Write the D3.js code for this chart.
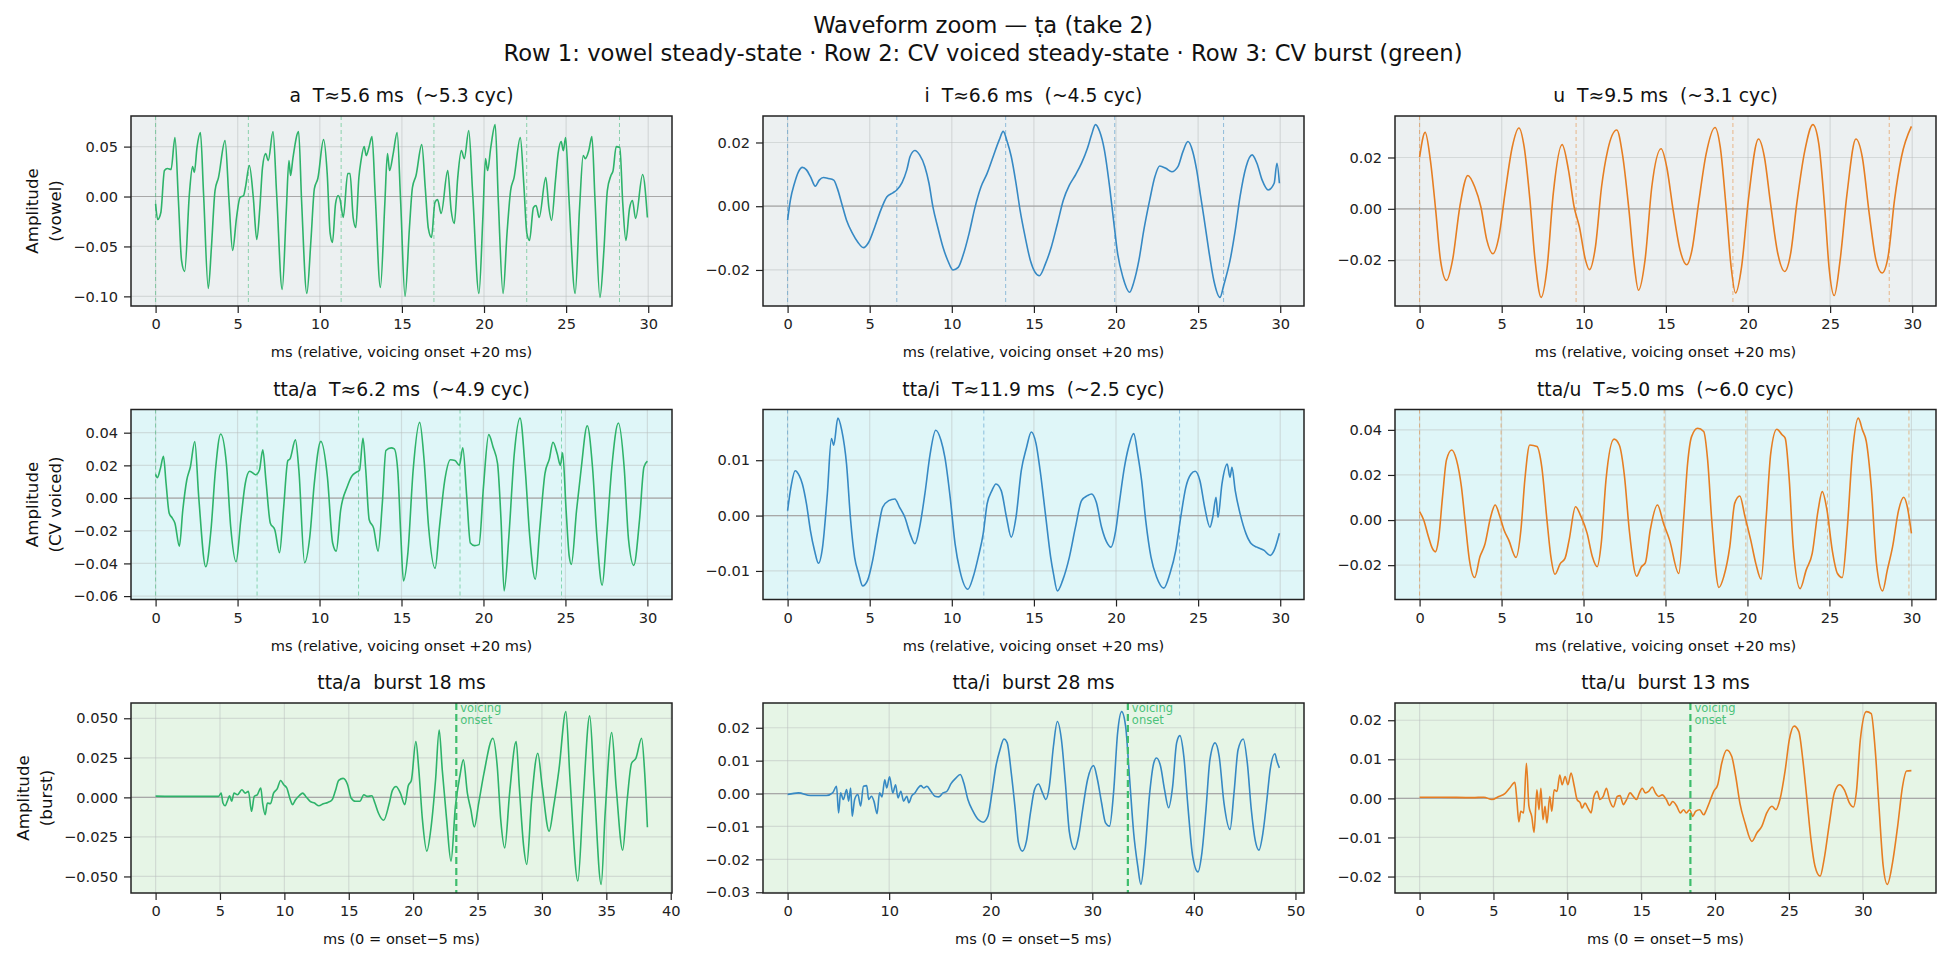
<!DOCTYPE html>
<html>
<head>
<meta charset="utf-8"/>
<script src="https://cdn.jsdelivr.net/npm/d3@7"></script>
<style>
  body { margin: 0; background: #fff; }
  svg text { font-family: "DejaVu Sans", sans-serif; }
</style>
</head>
<body>
<svg id="fig" width="1951" height="962"></svg>
<script>
// ---- data: [ms, amplitude] ----
var vowelA = [[0,-0.0073],[0.13,-0.023],[0.32,-0.016],[0.54,0.026],[0.72,0.028],[0.94,0.027],[1.18,0.059],[1.39,-0.004],[1.58,-0.064],[1.77,-0.075],[2.06,0.003],[2.25,0.03],[2.36,0.024],[2.52,0.049],[2.73,0.064],[2.92,0.003],[3.21,-0.092],[3.4,-0.051],[3.62,0.006],[3.83,0.019],[4.23,0.056],[4.47,-0.004],[4.69,-0.054],[4.93,-0.021],[5.14,-0.001],[5.36,0.001],[5.47,0.009],[5.71,0.031],[5.95,-0.001],[6.16,-0.043],[6.35,-0.011],[6.51,0.029],[6.7,0.043],[6.86,0.036],[7.15,0.065],[7.37,0.003],[7.71,-0.093],[7.96,-0.014],[8.12,0.036],[8.22,0.021],[8.36,0.038],[8.71,0.065],[8.89,-0.004],[9.21,-0.097],[9.46,-0.044],[9.67,0.008],[9.88,0.018],[10.23,0.057],[10.45,0.023],[10.63,-0.037],[10.77,-0.046],[10.96,-0.007],[11.12,0.001],[11.22,-0.002],[11.43,-0.021],[11.7,0.023],[11.84,0.023],[12.03,-0.021],[12.19,-0.031],[12.38,0.019],[12.51,0.036],[12.7,0.05],[12.83,0.041],[12.99,0.049],[13.18,0.06],[13.37,0.003],[13.69,-0.091],[13.96,-0.007],[14.12,0.043],[14.25,0.026],[14.47,0.043],[14.71,0.064],[14.92,-0.004],[15.19,-0.1],[15.46,-0.031],[15.64,0.009],[15.86,0.021],[16.21,0.052],[16.42,0.009],[16.61,-0.032],[16.8,-0.041],[17.01,-0.006],[17.17,-0.003],[17.39,-0.017],[17.79,0.026],[18.0,-0.014],[18.19,-0.027],[18.4,0.019],[18.62,0.046],[18.8,0.038],[19.07,0.066],[19.31,0.003],[19.69,-0.097],[19.93,-0.021],[20.09,0.038],[20.22,0.026],[20.41,0.049],[20.68,0.072],[20.87,-0.004],[21.16,-0.097],[21.4,-0.037],[21.62,0.006],[21.83,0.019],[22.21,0.059],[22.42,0.013],[22.61,-0.037],[22.77,-0.044],[23.01,-0.011],[23.17,-0.009],[23.36,-0.021],[23.76,0.019],[23.95,-0.011],[24.11,-0.024],[24.35,0.016],[24.51,0.043],[24.7,0.055],[24.83,0.046],[24.97,0.059],[25.18,-0.004],[25.55,-0.097],[25.82,-0.011],[26.04,0.041],[26.17,0.038],[26.38,0.046],[26.57,0.06],[26.76,-0.004],[27.06,-0.101],[27.3,-0.054],[27.51,0.006],[27.73,0.021],[27.86,0.026],[28.05,0.05],[28.27,0.049],[28.45,-0.007],[28.64,-0.044],[28.86,-0.012],[29.04,-0.004],[29.23,-0.022],[29.66,0.022],[29.95,-0.021]];

var vowelI = [[0,-0.0044],[0.17,0.0019],[0.42,0.0072],[0.66,0.0108],[0.9,0.0122],[1.15,0.0114],[1.39,0.0093],[1.69,0.0063],[1.93,0.0082],[2.18,0.009],[2.49,0.0087],[2.81,0.0082],[3.03,0.0056],[3.3,0.0008],[3.59,-0.0044],[3.96,-0.0086],[4.28,-0.0113],[4.62,-0.013],[4.94,-0.0113],[5.31,-0.0065],[5.67,-0.0013],[6.04,0.0029],[6.41,0.0042],[6.65,0.0051],[6.97,0.0074],[7.26,0.0114],[7.46,0.0156],[7.75,0.0175],[8.04,0.0161],[8.36,0.0124],[8.61,0.0072],[8.85,-0.0002],[9.14,-0.0065],[9.46,-0.0128],[9.76,-0.0171],[10.07,-0.02],[10.39,-0.0192],[10.68,-0.0155],[11.05,-0.0086],[11.42,-0.0002],[11.78,0.0061],[12.15,0.0103],[12.52,0.0156],[12.89,0.0208],[13.13,0.0235],[13.37,0.0203],[13.62,0.0156],[13.91,0.0072],[14.16,-0.0013],[14.47,-0.0097],[14.79,-0.0171],[15.33,-0.0218],[15.7,-0.0181],[16.06,-0.0128],[16.43,-0.0055],[16.79,0.0019],[17.16,0.0066],[17.53,0.0098],[17.9,0.0135],[18.26,0.0182],[18.51,0.0224],[18.75,0.0256],[19.0,0.0235],[19.29,0.0177],[19.61,0.0061],[19.85,-0.0044],[20.1,-0.0149],[20.42,-0.0223],[20.83,-0.027],[21.08,-0.0239],[21.39,-0.0171],[21.69,-0.0076],[22.05,0.0019],[22.37,0.0093],[22.66,0.0126],[23.03,0.0119],[23.4,0.0108],[23.77,0.0124],[24.08,0.0172],[24.38,0.0203],[24.67,0.0172],[24.91,0.0114],[25.16,0.0029],[25.35,-0.0034],[25.65,-0.0139],[25.96,-0.0234],[26.33,-0.0286],[26.58,-0.0244],[26.94,-0.0171],[27.26,-0.0076],[27.55,0.0029],[27.92,0.0124],[28.29,0.0161],[28.58,0.0135],[28.9,0.0082],[29.27,0.0051],[29.63,0.0072],[29.8,0.0135],[29.95,0.0072]];

var vowelU = [[0,0.0201],[0.34,0.0298],[0.66,0.0188],[0.98,-0.0005],[1.27,-0.0199],[1.64,-0.0279],[2.01,-0.0199],[2.45,0.0008],[2.94,0.013],[3.36,0.0085],[3.73,0.0008],[4.09,-0.0121],[4.46,-0.0175],[4.83,-0.0108],[5.2,0.0059],[5.64,0.024],[6.05,0.0315],[6.37,0.024],[6.72,0.0034],[7.03,-0.0199],[7.4,-0.0345],[7.77,-0.0225],[8.14,0.0059],[8.68,0.025],[9.07,0.015],[9.41,0.0008],[9.73,-0.007],[10.1,-0.0199],[10.34,-0.0237],[10.71,-0.0147],[11.08,0.0085],[11.45,0.0227],[12.01,0.0307],[12.35,0.0214],[12.75,-0.0005],[13.04,-0.0199],[13.33,-0.0317],[13.73,-0.0199],[14.14,0.0085],[14.71,0.0234],[15.05,0.0163],[15.44,-0.0005],[15.86,-0.016],[16.27,-0.0218],[16.59,-0.016],[16.96,0.0008],[17.45,0.0214],[17.99,0.0317],[18.31,0.024],[18.68,-0.0005],[18.97,-0.0225],[19.24,-0.0328],[19.61,-0.0225],[20.02,0.0034],[20.64,0.0272],[21.0,0.0201],[21.37,0.0021],[21.81,-0.0173],[22.23,-0.0244],[22.6,-0.0173],[22.97,0.0021],[23.46,0.0227],[23.95,0.0328],[24.31,0.0253],[24.68,-0.0005],[24.93,-0.0225],[25.25,-0.0338],[25.61,-0.0199],[26.03,0.0059],[26.57,0.0272],[26.96,0.0201],[27.38,-0.0018],[27.79,-0.0199],[28.16,-0.025],[28.53,-0.0186],[28.92,0.0034],[29.34,0.0201],[29.95,0.0321]];

var cvA = [[0,0.0145],[0.11,0.0125],[0.29,0.018],[0.48,0.0255],[0.64,0.0089],[0.83,-0.0093],[1.02,-0.0123],[1.18,-0.0154],[1.45,-0.0295],[1.66,-0.0073],[1.9,0.0109],[2.12,0.019],[2.39,0.0345],[2.63,0.0008],[3.06,-0.042],[3.38,-0.0194],[3.65,0.017],[3.97,0.0392],[4.32,0.021],[4.58,-0.0174],[4.91,-0.039],[5.2,-0.0133],[5.47,0.0089],[5.74,0.0164],[6.11,0.0143],[6.33,0.017],[6.54,0.0295],[6.73,0.0109],[7.0,-0.0154],[7.27,-0.0194],[7.56,-0.0335],[7.8,-0.0073],[8.07,0.023],[8.2,0.024],[8.53,0.0356],[8.74,0.017],[9.09,-0.0396],[9.41,-0.0234],[9.68,0.0089],[10.08,0.0347],[10.48,0.0129],[10.8,-0.0275],[11.02,-0.0325],[11.29,-0.0073],[11.69,0.0069],[11.96,0.0133],[12.28,0.016],[12.44,0.017],[12.65,0.0366],[12.82,0.017],[13.03,-0.0133],[13.3,-0.0184],[13.57,-0.0325],[13.83,-0.0032],[14.05,0.0291],[14.37,0.0307],[14.56,0.0301],[14.77,0.017],[14.96,-0.0234],[15.12,-0.0507],[15.39,-0.0335],[15.71,0.017],[16.11,0.0463],[16.38,0.023],[16.65,-0.0174],[17.05,-0.043],[17.32,-0.0174],[17.64,0.0109],[17.99,0.0234],[18.26,0.023],[18.53,0.02],[18.74,0.0307],[18.98,0.0008],[19.2,-0.0275],[19.46,-0.0291],[19.73,-0.0285],[20.0,0.0069],[20.32,0.0388],[20.59,0.0311],[20.86,0.021],[21.07,-0.0133],[21.26,-0.0568],[21.55,-0.0234],[21.88,0.0271],[22.23,0.0489],[22.55,0.017],[22.82,-0.0234],[23.16,-0.0497],[23.43,-0.0194],[23.75,0.0149],[24.02,0.024],[24.24,0.0341],[24.5,0.0271],[24.69,0.02],[24.83,0.0277],[25.04,-0.0073],[25.23,-0.0356],[25.36,-0.0406],[25.68,-0.0073],[25.95,0.017],[26.33,0.0442],[26.65,0.019],[26.92,-0.0234],[27.24,-0.0533],[27.51,-0.0234],[27.83,0.019],[28.23,0.0459],[28.58,0.019],[28.85,-0.0255],[29.17,-0.0412],[29.52,-0.0133],[29.79,0.019],[30.0,0.0226]];

var cvI = [[0,0.0009],[0.22,0.0054],[0.46,0.0081],[0.71,0.0072],[0.9,0.0057],[1.15,0.0021],[1.39,-0.0027],[1.64,-0.0063],[1.88,-0.0086],[2.13,-0.0057],[2.42,0.0039],[2.67,0.0139],[2.81,0.0127],[3.06,0.0176],[3.3,0.0154],[3.59,0.0093],[3.84,-0.0009],[4.08,-0.0075],[4.33,-0.0105],[4.57,-0.0127],[4.87,-0.0117],[5.18,-0.0081],[5.5,-0.0027],[5.79,0.0015],[6.16,0.0027],[6.53,0.003],[6.82,0.0015],[7.14,-0.0003],[7.46,-0.0033],[7.75,-0.0051],[8.04,-0.0021],[8.36,0.0039],[8.68,0.0111],[9.02,0.0154],[9.34,0.0136],[9.58,0.0105],[9.9,0.0033],[10.2,-0.0051],[10.49,-0.0099],[10.98,-0.0133],[11.3,-0.0111],[11.61,-0.0075],[11.91,-0.0033],[12.15,0.0021],[12.44,0.0045],[12.69,0.0057],[13.01,0.0045],[13.33,-0.0003],[13.62,-0.0039],[13.91,-0.0003],[14.23,0.0081],[14.55,0.0123],[14.84,0.0151],[15.13,0.013],[15.38,0.0081],[15.7,0.0003],[16.02,-0.0075],[16.19,-0.0105],[16.43,-0.0136],[16.75,-0.0117],[17.16,-0.0075],[17.53,-0.0021],[17.9,0.0027],[18.26,0.0036],[18.51,0.0039],[18.8,0.0024],[19.12,-0.0021],[19.49,-0.0051],[19.68,-0.0057],[19.98,-0.0027],[20.22,0.0027],[20.51,0.0087],[20.76,0.0123],[21.08,0.0148],[21.32,0.0111],[21.56,0.0063],[21.81,-0.0009],[22.13,-0.0075],[22.47,-0.0111],[22.91,-0.0131],[23.28,-0.0105],[23.64,-0.0063],[23.94,-0.0003],[24.25,0.0051],[24.57,0.0075],[24.82,0.008],[25.11,0.0063],[25.4,0.0015],[25.72,-0.0021],[25.89,-0.0003],[26.09,0.0033],[26.21,-0.0003],[26.45,0.0057],[26.77,0.0093],[26.94,0.0069],[27.06,0.0087],[27.26,0.0045],[27.56,0.0003],[27.92,-0.0033],[28.24,-0.0051],[28.58,-0.0057],[29.02,-0.0063],[29.39,-0.0072],[29.63,-0.0063],[29.95,-0.0032]];

var cvU = [[0,0.0037],[0.25,0],[0.54,-0.0074],[0.78,-0.0126],[0.96,-0.0141],[1.15,-0.0089],[1.4,0.0104],[1.64,0.0267],[1.96,0.0311],[2.25,0.0267],[2.55,0.0148],[2.79,-0.0015],[3.04,-0.0178],[3.36,-0.0255],[3.68,-0.0163],[3.97,-0.0111],[4.34,0.0015],[4.61,0.0067],[4.9,0.0015],[5.15,-0.0044],[5.44,-0.0089],[5.88,-0.0166],[6.18,-0.0044],[6.42,0.0178],[6.72,0.0333],[7.16,0.0326],[7.45,0.0237],[7.77,0],[8.01,-0.0163],[8.26,-0.024],[8.58,-0.0193],[8.87,-0.017],[9.12,-0.0089],[9.51,0.0059],[9.85,0.0015],[10.22,-0.0059],[10.54,-0.0163],[10.83,-0.0207],[11.08,-0.0104],[11.37,0.0178],[11.86,0.0359],[12.18,0.0333],[12.5,0.0193],[12.79,-0.0044],[13.24,-0.0249],[13.53,-0.0207],[13.77,-0.019],[14.07,-0.0044],[14.51,0.0067],[14.88,-0.0015],[15.25,-0.0089],[15.81,-0.0237],[16.1,0],[16.35,0.0252],[16.59,0.037],[16.96,0.0407],[17.33,0.0393],[17.57,0.0267],[17.82,0],[18.26,-0.0299],[18.55,-0.0252],[18.92,-0.0119],[19.22,0.0074],[19.53,0.0107],[19.85,0.0015],[20.2,-0.0089],[20.51,-0.0193],[20.83,-0.0262],[21.13,0],[21.42,0.0296],[21.79,0.0403],[22.11,0.0378],[22.3,0.0363],[22.55,0.0178],[22.79,-0.0119],[23.21,-0.0304],[23.58,-0.0222],[23.95,-0.0148],[24.31,0.0044],[24.56,0.0126],[24.85,0.0044],[25.17,-0.0133],[25.49,-0.0237],[25.78,-0.0255],[26.08,-0.0044],[26.4,0.0296],[26.76,0.0452],[27.01,0.04],[27.25,0.0348],[27.55,0.0148],[27.87,-0.0193],[28.24,-0.0314],[28.53,-0.0222],[28.85,-0.0119],[29.22,0.0044],[29.53,0.0101],[29.75,0.0059],[30.0,-0.0059]];

var burstA = [[0,0.0008],[2.26,0.0006],[4.89,0.0006],[5.09,0.0027],[5.23,-0.0036],[5.4,-0.0053],[5.61,-0.0015],[5.74,0.001],[5.91,-0.0025],[6.09,0.0027],[6.36,0.0017],[6.7,0.0048],[6.97,0.0027],[7.21,0.0038],[7.45,-0.0088],[7.66,0.0006],[7.9,0.0017],[8.17,0.0059],[8.31,-0.0036],[8.51,-0.0109],[8.68,-0.0036],[8.92,-0.004],[9.16,0.0027],[9.44,0.0053],[9.71,0.0107],[9.95,0.008],[10.19,0.0059],[10.46,-0.0015],[10.63,-0.0046],[10.87,-0.0015],[11.15,0.001],[11.42,0.0027],[11.66,0.0006],[12.0,-0.0025],[12.34,-0.0036],[12.68,-0.0053],[13.03,-0.004],[13.37,-0.0032],[13.71,-0.0015],[13.95,0.0038],[14.22,0.0107],[14.56,0.012],[14.91,0.008],[15.18,-0.0004],[15.52,-0.0025],[15.86,-0.0025],[16.17,0.0017],[16.44,0.0006],[16.79,0.001],[17.03,-0.0036],[17.3,-0.0099],[17.71,-0.0145],[18.15,-0.0036],[18.39,0.0044],[18.67,0.0069],[19.01,0.0027],[19.35,-0.0046],[19.62,0.0074],[19.86,0.0107],[20.21,0.0353],[20.44,0.0174],[20.72,-0.0141],[21.06,-0.034],[21.4,-0.0183],[21.74,0.0111],[22.02,0.0426],[22.26,0.0174],[22.6,-0.0141],[22.94,-0.0403],[23.28,-0.0057],[23.62,0.0132],[23.9,0.0237],[24.21,0.0027],[24.48,-0.0078],[24.75,-0.0187],[25.09,-0.0036],[25.5,0.0153],[26.19,0.0374],[26.53,0.0195],[26.8,-0.0141],[27.11,-0.0319],[27.49,0.0027],[28.0,0.0353],[28.24,0.0069],[28.58,-0.0309],[28.82,-0.0424],[29.2,-0.0015],[29.68,0.0279],[30.02,0.0069],[30.56,-0.0214],[30.91,-0.0057],[31.32,0.0174],[31.86,0.0542],[32.17,0.0132],[32.79,-0.0529],[33.2,-0.0015],[33.71,0.0515],[34.05,0.009],[34.6,-0.055],[34.91,-0.0099],[35.42,0.041],[35.76,0.0069],[36.27,-0.0334],[36.62,-0.0015],[36.96,0.0216],[37.3,0.0248],[37.74,0.0374],[37.98,0.0153],[38.19,-0.0189]];

var burstI = [[0,-0.0003],[1.07,0.0002],[2.25,-0.0006],[3.83,-0.0006],[4.43,0.0002],[4.82,0.0022],[5.02,-0.0059],[5.22,0.0002],[5.49,-0.0018],[5.81,0.0012],[6.01,-0.0023],[6.21,0.0017],[6.36,-0.0069],[6.6,-0.0018],[6.92,-0.0003],[7.19,-0.0038],[7.47,0.0022],[7.79,0.0024],[7.98,-0.0018],[8.26,-0.0008],[8.5,-0.0023],[8.81,-0.0061],[9.05,0.0002],[9.29,-0.001],[9.57,0.0042],[9.76,0.0017],[10.04,0.0051],[10.36,0.0002],[10.63,0.0027],[10.87,-0.0013],[11.15,0.0007],[11.42,-0.0023],[11.74,-0.0008],[11.94,-0.0028],[12.21,-0.0008],[12.53,0.0002],[12.85,0.0017],[13.12,0.0024],[13.4,0.0017],[13.72,0.0022],[14.11,0.0007],[14.51,-0.0008],[14.9,-0.001],[15.3,0.0002],[15.69,0.0007],[16.09,0.003],[16.56,0.0047],[17.0,0.0058],[17.35,0.0032],[17.75,-0.0018],[18.26,-0.0054],[18.77,-0.0079],[19.25,-0.0087],[19.72,-0.0069],[20.12,0.0002],[20.51,0.0083],[20.91,0.0133],[21.3,0.0166],[21.62,0.0154],[22.02,0.0063],[22.41,-0.0048],[22.73,-0.0149],[23.12,-0.0175],[23.52,-0.0144],[23.91,-0.0059],[24.31,0.0012],[24.7,0.0029],[25.1,0.0002],[25.42,-0.0018],[25.77,0.0022],[26.17,0.0143],[26.56,0.0219],[26.96,0.0164],[27.35,0.0032],[27.75,-0.0119],[28.26,-0.017],[28.66,-0.0129],[29.05,-0.0048],[29.53,0.0042],[30.12,0.0085],[30.51,0.0042],[30.91,-0.0028],[31.3,-0.0089],[31.7,-0.0099],[32.09,0.0002],[32.49,0.0184],[32.89,0.0249],[33.28,0.0204],[33.68,0.0042],[34.07,-0.0119],[34.47,-0.022],[34.78,-0.0276],[35.18,-0.018],[35.65,0.0002],[36.05,0.0093],[36.32,0.0108],[36.72,0.0083],[37.11,0.0012],[37.51,-0.0043],[37.91,0.0022],[38.3,0.0154],[38.62,0.0176],[39.01,0.0113],[39.41,-0.0038],[39.88,-0.019],[40.4,-0.0238],[40.79,-0.018],[41.19,-0.0048],[41.58,0.0103],[42.09,0.0154],[42.49,0.0113],[42.96,-0.0028],[43.56,-0.0109],[43.95,0.0002],[44.35,0.0133],[44.86,0.0166],[45.26,0.0093],[45.65,-0.0048],[46.05,-0.0144],[46.4,-0.0172],[46.8,-0.0119],[47.19,-0.0018],[47.51,0.0073],[47.98,0.0121],[48.18,0.0098],[48.42,0.0078]];

var burstU = [[0,0.0003],[1.41,0.0003],[3.59,0.0002],[4.35,0.0003],[4.9,-0.0003],[5.36,0.0005],[5.77,0.0012],[6.09,0.0026],[6.45,0.0041],[6.58,-0.0003],[6.72,-0.006],[6.85,-0.0033],[7.04,-0.0037],[7.23,0.009],[7.4,-0.002],[7.59,-0.0046],[7.75,-0.0087],[7.94,0.0022],[8.08,-0.0029],[8.21,0.0026],[8.35,-0.0054],[8.49,-0.002],[8.62,-0.0063],[8.81,0.0005],[8.95,-0.0033],[9.11,0.0022],[9.3,0.0018],[9.49,0.006],[9.65,0.0035],[9.85,0.0056],[10.04,0.0035],[10.25,0.0065],[10.47,0.0031],[10.66,-0.0003],[10.88,-0.0012],[10.99,-0.0025],[11.2,-0.0012],[11.4,-0.0025],[11.61,-0.0037],[11.8,0.0005],[12.02,0.0018],[12.21,-0.0003],[12.43,0.0005],[12.65,0.0026],[12.84,-0.0002],[13.11,-0.0022],[13.38,0.0005],[13.57,0.0007],[13.79,-0.0016],[14.01,-0.0003],[14.25,0.0014],[14.47,0.0005],[14.69,-0.0003],[14.88,0.0014],[15.07,0.0026],[15.28,0.0014],[15.5,0.0018],[15.75,0.0029],[15.96,0.0014],[16.18,0.0005],[16.43,0.0009],[16.7,-0.0003],[16.92,-0.0018],[17.13,-0.0008],[17.41,-0.002],[17.65,-0.0037],[17.87,-0.0029],[18.06,-0.0037],[18.28,-0.0029],[18.49,-0.0046],[18.68,-0.0033],[18.96,-0.0029],[19.23,-0.0042],[19.42,-0.0029],[19.64,-0.0008],[19.91,0.0018],[20.18,0.0035],[20.45,0.009],[20.8,0.0124],[21.13,0.0107],[21.4,0.0056],[21.68,-0.0012],[22.03,-0.0063],[22.49,-0.011],[22.84,-0.0088],[23.17,-0.0071],[23.5,-0.0037],[23.85,-0.002],[24.12,-0.0029],[24.39,-0.0003],[24.75,0.0073],[25.02,0.0149],[25.35,0.0185],[25.67,0.0171],[25.94,0.0099],[26.22,-0.0003],[26.49,-0.0105],[26.76,-0.0173],[27.11,-0.0199],[27.38,-0.0156],[27.74,-0.0063],[28.07,0.0014],[28.42,0.0035],[28.75,0.0022],[29.1,-0.0012],[29.37,-0.0022],[29.56,0.0014],[29.83,0.0149],[30.24,0.0222],[30.57,0.0217],[30.84,0.0124],[31.11,-0.0029],[31.38,-0.0173],[31.66,-0.022],[32.01,-0.0165],[32.36,-0.0071],[32.69,0.0031],[32.96,0.007],[33.29,0.0071]];

// period markers (ms) and voicing onset (ms)
var marksA = [0, 5.65, 11.3, 16.95, 22.6, 28.25];
var marksI = [0, 6.65, 13.28, 19.92, 26.55];
var marksU = [0, 9.53, 19.08, 28.6];
var marksCvA = [0, 6.19, 12.38, 18.57, 24.76];
var marksCvI = [0, 11.95, 23.87];
var marksCvU = [0, 4.97, 9.95, 14.92, 19.9, 24.88, 29.85];
var onsetA = 23.35, onsetI = 33.5, onsetU = 18.33;

// titles and tick labels
var suptitle = ["Waveform zoom — ṭa (take 2)",
  "Row 1: vowel steady-state · Row 2: CV voiced steady-state · Row 3: CV burst (green)"];
var titles = ["a  T≈5.6 ms  (~5.3 cyc)", "i  T≈6.6 ms  (~4.5 cyc)", "u  T≈9.5 ms  (~3.1 cyc)",
  "tta/a  T≈6.2 ms  (~4.9 cyc)", "tta/i  T≈11.9 ms  (~2.5 cyc)", "tta/u  T≈5.0 ms  (~6.0 cyc)",
  "tta/a  burst 18 ms", "tta/i  burst 28 ms", "tta/u  burst 13 ms"];
var rowYLabels = [["Amplitude", "(vowel)"], ["Amplitude", "(CV voiced)"], ["Amplitude", "(burst)"]];
var xLabelSteady = "ms (relative, voicing onset +20 ms)";
var xLabelBurst = "ms (0 = onset−5 ms)";
var xTicks30 = [0, 5, 10, 15, 20, 25, 30];
var xTicksBurstA = [0, 5, 10, 15, 20, 25, 30, 35, 40];
var xTicksBurstI = [0, 10, 20, 30, 40, 50];
var yTicksA = [-0.10, -0.05, 0, 0.05];
var yTicks02 = [-0.02, 0, 0.02];
var yTicksCvA = [-0.06, -0.04, -0.02, 0, 0.02, 0.04];
var yTicksCvI = [-0.01, 0, 0.01];
var yTicksCvU = [-0.02, 0, 0.02, 0.04];
var yTicksBurstA = [-0.05, -0.025, 0, 0.025, 0.05];
var yTicksBurstI = [-0.03, -0.02, -0.01, 0, 0.01, 0.02];
var yTicksBurstU = [-0.02, -0.01, 0, 0.01, 0.02];

var GREEN = "#2eb36a", BLUE = "#3689c4", ORANGE = "#e67e22";
var rowBg = ["#ecf0f1", "#dff6f8", "#e6f5e6"];

var panels = [
  {row: 0, col: 0, data: vowelA, color: GREEN,  marks: marksA,   yTicks: yTicksA,      dec: 2, xTicks: xTicks30},
  {row: 0, col: 1, data: vowelI, color: BLUE,   marks: marksI,   yTicks: yTicks02,     dec: 2, xTicks: xTicks30},
  {row: 0, col: 2, data: vowelU, color: ORANGE, marks: marksU,   yTicks: yTicks02,     dec: 2, xTicks: xTicks30},
  {row: 1, col: 0, data: cvA,    color: GREEN,  marks: marksCvA, yTicks: yTicksCvA,    dec: 2, xTicks: xTicks30},
  {row: 1, col: 1, data: cvI,    color: BLUE,   marks: marksCvI, yTicks: yTicksCvI,    dec: 2, xTicks: xTicks30},
  {row: 1, col: 2, data: cvU,    color: ORANGE, marks: marksCvU, yTicks: yTicksCvU,    dec: 2, xTicks: xTicks30},
  {row: 2, col: 0, data: burstA, color: GREEN,  onset: onsetA,   yTicks: yTicksBurstA, dec: 3, xTicks: xTicksBurstA},
  {row: 2, col: 1, data: burstI, color: BLUE,   onset: onsetI,   yTicks: yTicksBurstI, dec: 2, xTicks: xTicksBurstI},
  {row: 2, col: 2, data: burstU, color: ORANGE, onset: onsetU,   yTicks: yTicksBurstU, dec: 2, xTicks: xTicks30}
];

// ---- layout ----
var W = 1951, H = 962;
var plotLeft = [131, 763, 1395], plotTop = [116, 409.5, 703];
var plotW = 541, plotH = 190;
var TICK_FS = "14.6px";

var svg = d3.select("#fig");
svg.append("rect").attr("width", W).attr("height", H).attr("fill", "#fff");

// figure was saved with a tight bbox, so the title centre sits a little right of W/2
svg.append("text").attr("x", 983).attr("y", 33).attr("text-anchor", "middle")
  .style("font-size", "22.7px").attr("fill", "#111").text(suptitle[0]);
svg.append("text").attr("x", 983).attr("y", 60.5).attr("text-anchor", "middle")
  .style("font-size", "22.7px").attr("fill", "#111").text(suptitle[1]);

panels.forEach(function(p, i) {
  var g = svg.append("g").attr("transform", "translate(" + plotLeft[p.col] + "," + plotTop[p.row] + ")");

  var xe = d3.extent(p.data, function(d) { return d[0]; });
  var ye = d3.extent(p.data, function(d) { return d[1]; });
  var xp = (xe[1] - xe[0]) * 0.05, yp = (ye[1] - ye[0]) * 0.05;
  var x = d3.scaleLinear().domain([xe[0] - xp, xe[1] + xp]).range([0, plotW]);
  var y = d3.scaleLinear().domain([ye[0] - yp, ye[1] + yp]).range([plotH, 0]);

  g.append("rect").attr("width", plotW).attr("height", plotH).attr("fill", rowBg[p.row]);

  // grid
  g.selectAll(".gx").data(p.xTicks.filter(function(t) { return t >= x.domain()[0] && t <= x.domain()[1]; }))
    .enter().append("line")
    .attr("x1", function(d) { return x(d); }).attr("x2", function(d) { return x(d); })
    .attr("y1", 0).attr("y2", plotH)
    .attr("stroke", "#b8bcbd").attr("stroke-opacity", 0.45).attr("stroke-width", 1.2);
  g.selectAll(".gy").data(p.yTicks).enter().append("line")
    .attr("x1", 0).attr("x2", plotW)
    .attr("y1", function(d) { return y(d); }).attr("y2", function(d) { return y(d); })
    .attr("stroke", "#b8bcbd").attr("stroke-opacity", 0.45).attr("stroke-width", 1.2);

  // zero line
  g.append("line").attr("x1", 0).attr("x2", plotW).attr("y1", y(0)).attr("y2", y(0))
    .attr("stroke", "#a8a8a8").attr("stroke-width", 1.2);

  // period markers
  if (p.marks) {
    g.selectAll(".pm").data(p.marks).enter().append("line")
      .attr("x1", function(d) { return x(d); }).attr("x2", function(d) { return x(d); })
      .attr("y1", 0).attr("y2", plotH)
      .attr("stroke", p.color).attr("stroke-opacity", 0.5).attr("stroke-width", 1)
      .attr("stroke-dasharray", "4,3");
  }

  // waveform
  var line = d3.line().x(function(d) { return x(d[0]); }).y(function(d) { return y(d[1]); })
    .curve(d3.curveMonotoneX);
  g.append("path").datum(p.data).attr("d", line).attr("fill", "none")
    .attr("stroke", p.color).attr("stroke-width", 1.6).attr("stroke-linejoin", "round");

  // voicing onset
  if (p.onset !== undefined) {
    var ox = x(p.onset);
    g.append("line").attr("x1", ox).attr("x2", ox).attr("y1", 0).attr("y2", plotH)
      .attr("stroke", "#3dbd6c").attr("stroke-width", 2.2).attr("stroke-dasharray", "7,4");
    var t = g.append("text").attr("x", ox + 4).attr("y", 9).style("font-size", "11.5px").attr("fill", "#4cc27a");
    t.append("tspan").attr("x", ox + 4).attr("dy", 0).text("voicing");
    t.append("tspan").attr("x", ox + 4).attr("dy", 12).text("onset");
  }

  // frame
  g.append("rect").attr("width", plotW).attr("height", plotH).attr("fill", "none")
    .attr("stroke", "#222").attr("stroke-width", 1.5);

  // axes
  var fmt = d3.format("." + p.dec + "f");
  var xa = g.append("g").attr("transform", "translate(0," + plotH + ")")
    .call(d3.axisBottom(x).tickValues(p.xTicks).tickSize(7).tickPadding(6).tickFormat(d3.format("d")));
  var ya = g.append("g")
    .call(d3.axisLeft(y).tickValues(p.yTicks).tickSize(7).tickPadding(6).tickFormat(fmt));
  [xa, ya].forEach(function(a) {
    a.select(".domain").remove();
    a.attr("font-family", null).attr("font-size", null);
    a.selectAll(".tick line").attr("stroke", "#222").attr("stroke-width", 1.2);
    a.selectAll(".tick text").style("font-size", TICK_FS).attr("fill", "#222");
  });

  // title
  g.append("text").attr("x", plotW / 2).attr("y", -14).attr("text-anchor", "middle")
    .style("font-size", "18.75px").style("white-space", "pre").attr("fill", "#111").text(titles[i]);

  // x label
  g.append("text").attr("x", plotW / 2).attr("y", plotH + 51).attr("text-anchor", "middle")
    .style("font-size", "14.6px").attr("fill", "#111").text(p.row < 2 ? xLabelSteady : xLabelBurst);

  // y label (left column only)
  if (p.col === 0) {
    var bb = ya.node().getBBox();
    var lx = bb.x - 18 - 23;
    var yl = g.append("text").attr("transform", "translate(" + lx + "," + (plotH / 2) + ") rotate(-90)")
      .attr("text-anchor", "middle").attr("dominant-baseline", "central")
      .style("font-size", "16.7px").attr("fill", "#111");
    yl.append("tspan").attr("x", 0).attr("dy", 0).text(rowYLabels[p.row][0]);
    yl.append("tspan").attr("x", 0).attr("dy", 23).text(rowYLabels[p.row][1]);
  }
});
</script>
</body>
</html>
